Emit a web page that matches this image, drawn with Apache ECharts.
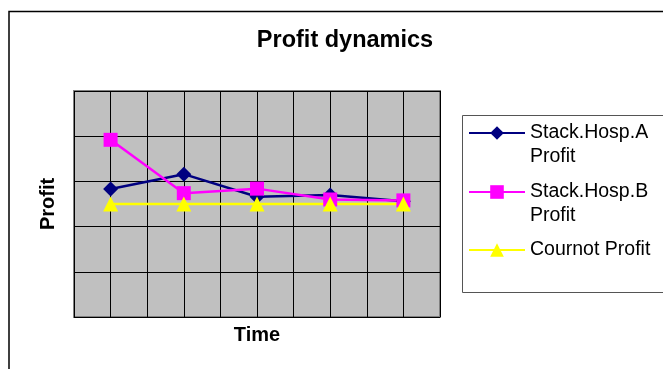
<!DOCTYPE html>
<html>
<head>
<meta charset="utf-8">
<script src="https://cdn.jsdelivr.net/npm/echarts@6/dist/echarts.min.js"></script>
<style>
html,body{margin:0;padding:0;background:#fff;}
#chart{width:663px;height:369px;}
</style>
</head>
<body>
<div id="chart"></div>
<script>
// Data
var periods = [1, 2, 3, 4, 5];
var hospA = [2.83, 3.16, 2.66, 2.70, 2.56];
var hospB = [3.92, 2.74, 2.84, 2.60, 2.58];
var cournot = [2.50, 2.50, 2.50, 2.50, 2.50];
var seriesNames = ['Stack.Hosp.A\nProfit', 'Stack.Hosp.B\nProfit', 'Cournot Profit'];

function pairs(vals) {
  return periods.map(function (p, i) { return [p, vals[i]]; });
}

var FONT = '"Liberation Sans", Arial, sans-serif';
var chart = echarts.init(document.getElementById('chart'));

function legendFor(name, top, twoLine) {
  return {
    data: [name],
    formatter: function (n) { return twoLine ? '\n' + n : n; },
    textStyle: { fontFamily: FONT, fontSize: 19.5, color: '#000', lineHeight: 24 },
    orient: 'vertical',
    left: 468,
    top: top,
    padding: 0,
    itemWidth: 56,
    itemHeight: 17,
    selectedMode: false
  };
}

chart.setOption({
  animation: false,
  backgroundColor: '#fff',
  title: {
    text: 'Profit dynamics',
    left: 340,
    textAlign: 'center',
    top: 24,
    textStyle: { fontFamily: FONT, fontSize: 23.5, fontWeight: 'bold', color: '#000' }
  },
  graphic: [
    { type: 'rect', shape: { x: 9, y: 11.5, width: 700, height: 400 },
      style: { fill: 'none', stroke: '#000', lineWidth: 1.5 }, z: -1 },
    { type: 'rect', shape: { x: 462.5, y: 115.5, width: 250, height: 177 },
      style: { fill: '#fff', stroke: '#555', lineWidth: 1 }, z: -1 }
  ],
  legend: [
    legendFor(seriesNames[0], 97, true),
    legendFor(seriesNames[1], 156, true),
    legendFor(seriesNames[2], 238, false)
  ],
  grid: {
    left: 74, top: 91, width: 366, height: 226,
    show: true, backgroundColor: '#C0C0C0', borderColor: '#808080', borderWidth: 2
  },
  xAxis: {
    type: 'value', min: 0.5, max: 5.5, interval: 0.5,
    name: 'Time', nameLocation: 'middle', nameGap: 8,
    nameTextStyle: { fontFamily: FONT, fontSize: 20, fontWeight: 'bold', color: '#000', verticalAlign: 'top' },
    axisLine: { show: false }, axisTick: { show: false }, axisLabel: { show: false },
    splitLine: { show: true, lineStyle: { color: '#000', width: 1 } }
  },
  yAxis: {
    type: 'value', min: 0, max: 5, interval: 1,
    name: 'Profit', nameLocation: 'middle', nameGap: 16,
    nameTextStyle: { fontFamily: FONT, fontSize: 20, fontWeight: 'bold', color: '#000' },
    axisLine: { show: false }, axisTick: { show: false }, axisLabel: { show: false },
    splitLine: { show: true, lineStyle: { color: '#000', width: 1 } }
  },
  series: [
    { name: seriesNames[0], type: 'line', data: pairs(hospA),
      symbol: 'diamond', symbolSize: 15, showAllSymbol: true,
      lineStyle: { color: '#000080', width: 2.5 }, itemStyle: { color: '#000080' } },
    { name: seriesNames[1], type: 'line', data: pairs(hospB),
      symbol: 'rect', symbolSize: 14, showAllSymbol: true,
      lineStyle: { color: '#FF00FF', width: 2.5 }, itemStyle: { color: '#FF00FF' } },
    { name: seriesNames[2], type: 'line', data: pairs(cournot),
      symbol: 'triangle', symbolSize: 15, showAllSymbol: true,
      lineStyle: { color: '#FFFF00', width: 2.5 }, itemStyle: { color: '#FFFF00' } }
  ]
});
</script>
</body>
</html>
